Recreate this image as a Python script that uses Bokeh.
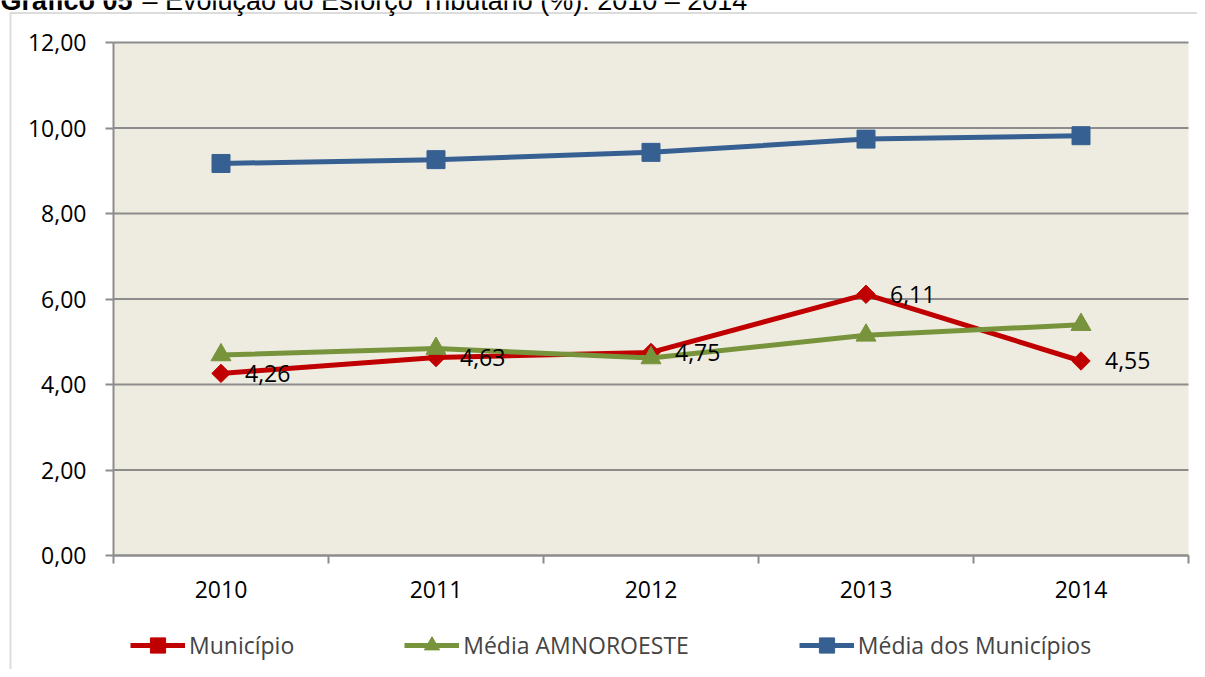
from math import pi
from bokeh.plotting import figure
from bokeh.models import (FixedTicker, Label, LabelSet, ColumnDataSource, Legend,
                          LegendItem, BoxAnnotation, Range1d, CustomJSTickFormatter,
                          LinearAxis)
from bokeh.embed import file_html
from bokeh.resources import INLINE
from bokeh.core.properties import value

# ---- data ----
years = ["2010", "2011", "2012", "2013", "2014"]
municipio = [4.26, 4.63, 4.75, 6.11, 4.55]
media_amnoroeste = [4.69, 4.84, 4.62, 5.15, 5.40]
media_municipios = [9.17, 9.26, 9.43, 9.74, 9.82]
y_ticks = [0, 2, 4, 6, 8, 10, 12]
series_names = ["Município", "Média AMNOROESTE", "Média dos Municípios"]
title_bold = "Gráfico 05"
title_rest = "– Evolução do Esforço Tributário (%): 2010 – 2014"

FONT = "Open Sans"
GRAY = "#8C8C8C"
RED, GREEN, BLUE = "#C00000", "#77933C", "#376092"

# ---- layout (pixels) ----
W, H = 1197, 669
PL, PR, PT, PB = 113, 1188, 42, 555          # plot-area edges on the canvas
n = len(years)
ymin, ymax = y_ticks[0], y_ticks[-1]
xs = (PR - PL) / n                            # px per x unit
ys = (PB - PT) / (ymax - ymin)                # px per y unit
x0 = 0 - PL / xs
x1 = n + (W - PR) / xs
y0 = ymin - (H - PB) / ys
y1 = ymax + PT / ys


def px_x(px):
    return x0 + px / xs


def px_y(py):
    return y1 - py / ys


x = [i + 0.5 for i in range(n)]

p = figure(width=W, height=H, output_backend="svg", toolbar_location=None,
           x_range=Range1d(x0, x1), y_range=Range1d(y0, y1),
           x_axis_type=None, y_axis_type=None,
           min_border=0, min_border_left=0, min_border_right=0,
           min_border_top=0, min_border_bottom=0)
p.background_fill_color = "white"
p.border_fill_color = "white"
p.outline_line_color = None
p.grid.visible = False

# plot-area background
p.add_layout(BoxAnnotation(left=0, right=n, bottom=ymin, top=ymax,
                           fill_color="#EEECE1", fill_alpha=1, line_color=None,
                           level="underlay"))

# outer chart border (extends past the right and bottom of the picture)
p.add_layout(BoxAnnotation(left=px_x(10), right=x1 + 1, top=px_y(12.5), bottom=y0 - 1,
                           fill_color=None, fill_alpha=0, line_color=GRAY,
                           line_width=2, level="underlay"))

# horizontal gridlines
p.segment(x0=[0] * len(y_ticks), x1=[n] * len(y_ticks), y0=y_ticks, y1=y_ticks,
          line_color=GRAY, line_width=2)

# x axis
xa = LinearAxis(fixed_location=ymin, bounds=(0, n))
xa.ticker = FixedTicker(ticks=x, minor_ticks=list(range(n + 1)))
xa.major_label_overrides = {xi: yr for xi, yr in zip(x, years)}
xa.major_tick_line_color = None
xa.major_tick_out = 0
xa.major_tick_in = 0
xa.minor_tick_line_color = GRAY
xa.minor_tick_line_width = 2
xa.minor_tick_out = 8
xa.minor_tick_in = 0
xa.axis_line_color = GRAY
xa.axis_line_width = 2
xa.major_label_text_font = FONT
xa.major_label_text_font_size = "23px"
xa.major_label_text_color = "black"
xa.major_label_standoff = 17
p.add_layout(xa, "below")

# y axis
ya = LinearAxis(fixed_location=0, bounds=(ymin, ymax))
ya.ticker = FixedTicker(ticks=y_ticks)
ya.formatter = CustomJSTickFormatter(code="return tick.toFixed(2).replace('.', ',');")
ya.major_tick_line_color = GRAY
ya.major_tick_line_width = 2
ya.major_tick_out = 8
ya.major_tick_in = 0
ya.minor_tick_line_color = None
ya.axis_line_color = GRAY
ya.axis_line_width = 2
ya.major_label_text_font = FONT
ya.major_label_text_font_size = "23px"
ya.major_label_text_color = "black"
ya.major_label_standoff = 19
p.add_layout(ya, "left")

# series
r1 = p.line(x, municipio, line_color=RED, line_width=5)
m1 = p.scatter(x, municipio, marker="square", angle=pi / 4, size=13, color=RED)
r2 = p.line(x, media_amnoroeste, line_color=GREEN, line_width=5)
m2 = p.scatter(x, media_amnoroeste, marker="triangle", size=20, color=GREEN)
r3 = p.line(x, media_municipios, line_color=BLUE, line_width=5)
m3 = p.scatter(x, media_municipios, marker="square", size=18, color=BLUE)

# data labels for Município
src = ColumnDataSource(dict(x=x, y=municipio,
                            t=[f"{v:.2f}".replace(".", ",") for v in municipio]))
p.add_layout(LabelSet(x="x", y="y", text="t", source=src, x_offset=24, y_offset=0,
                      text_baseline="middle", text_align="left",
                      text_font=value(FONT), text_font_size="23px",
                      text_color="black"))

# legend
legend = Legend(items=[LegendItem(label=series_names[0], renderers=[r1, m1]),
                       LegendItem(label=series_names[1], renderers=[r2, m2]),
                       LegendItem(label=series_names[2], renderers=[r3, m3])],
                orientation="horizontal", location=(130, 5), spacing=110,
                glyph_width=55, glyph_height=38, label_standoff=4, padding=0,
                margin=0, border_line_color=None, background_fill_alpha=0,
                label_text_font=FONT, label_text_font_size="23px",
                label_height=20)
p.add_layout(legend)

# title (its top is cut off by the page edge, as in the reference)
p.add_layout(Label(x=px_x(0), y=px_y(0), text=title_bold,
                   text_font="Liberation Sans", text_font_style="bold",
                   text_font_size="27px", text_baseline="alphabetic",
                   text_color="black"))
p.add_layout(Label(x=px_x(142), y=px_y(0), text=title_rest,
                   text_font="Liberation Sans", text_font_size="27px",
                   text_baseline="alphabetic", text_color="black"))

open("out.html", "w").write(file_html(p, INLINE))
